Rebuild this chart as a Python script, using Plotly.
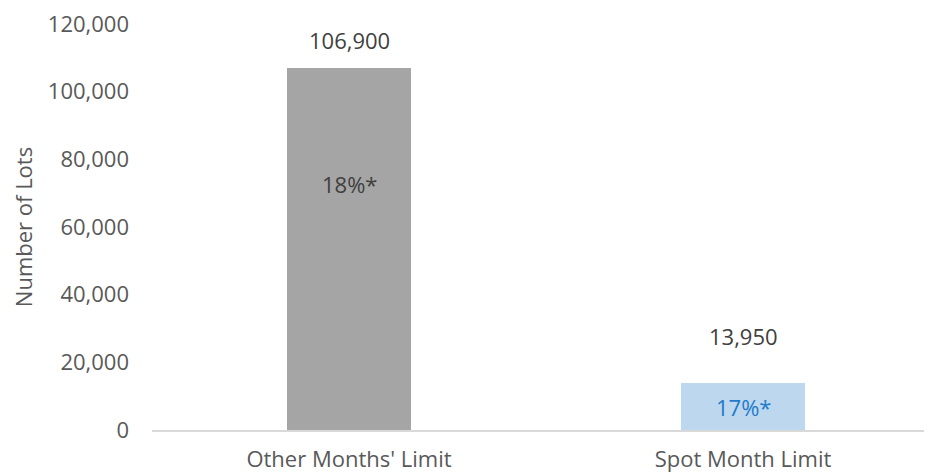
import plotly.graph_objects as go

categories = ["Other Months' Limit", "Spot Month Limit"]
values = [106900, 13950]
value_labels = ["106,900", "13,950"]
pct_labels = ["18%*", "17%*"]
bar_colors = ["#A5A5A5", "#BDD7EE"]
pct_colors = ["#404040", "#1F7BC9"]
tick_vals = [0, 20000, 40000, 60000, 80000, 100000, 120000]

FONT = "Open Sans"
FS = 22
fig = go.Figure()
fig.add_trace(go.Bar(x=categories, y=values, marker=dict(color=bar_colors, line=dict(width=0)),
                     width=0.315, hoverinfo="skip"))

value_shift = [11, 30]
pct_shift = [-116, -24]
for i, c in enumerate(categories):
    fig.add_annotation(x=c, y=values[i], text=value_labels[i], showarrow=False,
                       yanchor="bottom", yshift=value_shift[i],
                       font=dict(family=FONT, size=FS, color="#404040"))
    fig.add_annotation(x=c, y=values[i], text=pct_labels[i], showarrow=False,
                       yanchor="middle", yshift=pct_shift[i],
                       font=dict(family=FONT, size=FS, color=pct_colors[i]))

fig.update_layout(
    width=932, height=472,
    margin=dict(l=144, r=0, t=14, b=50),
    plot_bgcolor="white", paper_bgcolor="white",
    showlegend=False,
    font=dict(family=FONT, size=FS, color="#595959"),
    bargap=0,
)
fig.update_xaxes(showline=True, linecolor="#D9D9D9", linewidth=1.5, showgrid=False,
                 ticks="", tickfont=dict(family=FONT, size=FS, color="#595959"),
                 ticklabelstandoff=9)
fig.update_yaxes(range=[0, 120000], tickvals=tick_vals, tickformat=",d", showgrid=False,
                 zeroline=False, showline=False, ticks="",
                 tickfont=dict(family=FONT, size=FS, color="#595959"),
                 ticklabelstandoff=22, ticklabeloverflow="allow",
                 title=dict(text="Number of Lots", standoff=12,
                            font=dict(family=FONT, size=FS, color="#595959")))

fig.write_html("out.html")
